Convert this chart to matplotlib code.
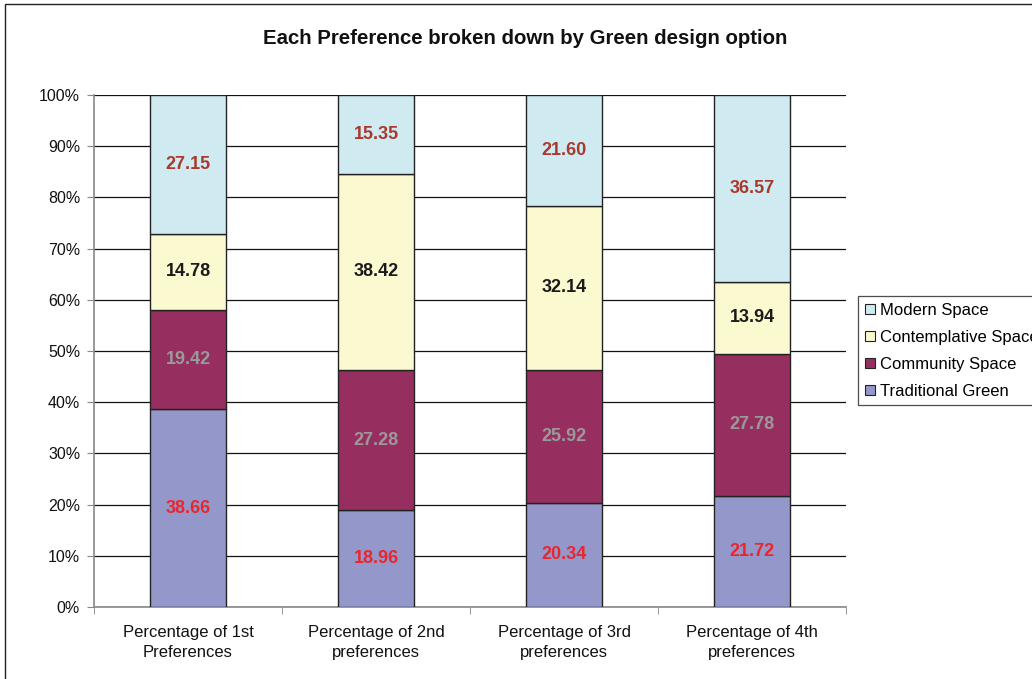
import matplotlib
matplotlib.use("Agg")
import matplotlib.pyplot as plt
from matplotlib.patches import Patch, Rectangle
import numpy as np

plt.rcParams['font.family'] = ['Liberation Sans', 'DejaVu Sans']

categories = ["Percentage of 1st\nPreferences", "Percentage of 2nd\npreferences",
              "Percentage of 3rd\npreferences", "Percentage of 4th\npreferences"]
traditional = [38.66, 18.96, 20.34, 21.72]
community = [19.42, 27.28, 25.92, 27.78]
contemplative = [14.78, 38.42, 32.14, 13.94]
modern = [27.15, 15.35, 21.60, 36.57]

series = [("Traditional Green", traditional, "#9497c9", "#e8262e"),
          ("Community Space", community, "#962f60", "#9a9a9a"),
          ("Contemplative Space", contemplative, "#fbf9d0", "#1a1a1a"),
          ("Modern Space", modern, "#cfebf1", "#a8392c")]

fig = plt.figure(figsize=(10.32, 6.79), dpi=100)
ax = fig.add_axes([94/1032, 1-607/679, (846-94)/1032, (607-95)/679])

x = np.arange(len(categories))
bottom = np.zeros(len(categories))
for name, vals, col, lcol in series:
    vals = np.array(vals)
    ax.bar(x, vals, 0.4, bottom=bottom, color=col, edgecolor="#222222",
           linewidth=1.0, label=name, zorder=3)
    for xi, b, v in zip(x, bottom, vals):
        ax.text(xi, b + v/2, f"{v:.2f}", ha="center", va="center",
                color=lcol, fontsize=13, fontweight="bold", zorder=4)
    bottom += vals

ax.set_xlim(-0.5, 3.5)
ax.set_ylim(0, 100)
ax.set_yticks(np.arange(0, 101, 10))
ax.set_yticklabels([f"{v}%" for v in range(0, 101, 10)], fontsize=11.5, color="#111111")
ax.yaxis.grid(True, color="#111111", linewidth=0.9, zorder=0)
ax.set_axisbelow(True)
ax.set_xticks(x)
ax.set_xticklabels(categories, fontsize=12, color="#111111", linespacing=1.45)
ax.set_xticks(np.arange(-0.5, 4.0, 1.0), minor=True)
ax.tick_params(axis="x", which="major", length=0, pad=13)
ax.tick_params(axis="x", which="minor", length=5, color="#888888", direction="out")
ax.tick_params(axis="y", length=5, color="#888888", direction="out", pad=5)
for s in ["top", "right"]:
    ax.spines[s].set_visible(False)
for s in ["left", "bottom"]:
    ax.spines[s].set_color("#888888")
    ax.spines[s].set_linewidth(1.2)

fig.text(525/1032, 1-38/679, "Each Preference broken down by Green design option",
         ha="center", va="center", fontsize=14.7, fontweight="bold", color="#111111")

handles = [Patch(facecolor=c, edgecolor="#222222", linewidth=0.8, label=n)
           for n, _, c, _ in reversed(series)]
leg = fig.legend(handles=handles, loc="upper left",
                 bbox_to_anchor=(858/1032, 1-296/679), fontsize=12,
                 frameon=True, fancybox=False, handlelength=0.6, handleheight=0.6,
                 handletextpad=0.35, labelspacing=0.72, borderpad=0.4, borderaxespad=0)
leg.get_frame().set_edgecolor("#222222")
leg.get_frame().set_linewidth(0.9)

fig.patches.append(Rectangle((5/1032, -0.1), 1.2, 1-4/679+0.1, transform=fig.transFigure,
                             fill=False, edgecolor="#222222", linewidth=1.0, zorder=-1))

fig.savefig("out.png", dpi=100)
